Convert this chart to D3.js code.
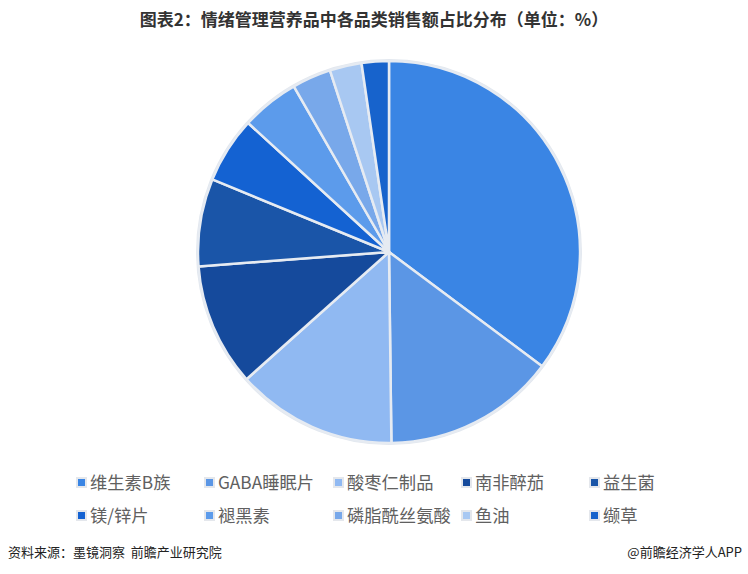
<!DOCTYPE html>
<html><head><meta charset="utf-8">
<script src="https://cdn.jsdelivr.net/npm/d3@7"></script>
<style>body{margin:0;background:#fff;}svg{display:block;font-family:"Noto Sans CJK SC","Noto Sans",sans-serif;}</style>
</head><body>
<script>
const categories = ["维生素B族","GABA睡眠片","酸枣仁制品","南非醉茄","益生菌","镁/锌片","褪黑素","磷脂酰丝氨酸","鱼油","缬草"];
const values = [35.2,14.6,13.6,10.4,7.4,5.6,4.9,3.3,2.7,2.3];
const colors = ["#3a85e4","#5b96e5","#90b9f2","#154a9c","#1a55a8","#1462d2","#5c9beb","#78a8ea","#a8c8f2","#1763cc"];
const title = "图表2：情绪管理营养品中各品类销售额占比分布（单位：%）";
const source = "资料来源：墨镜洞察\u00a0\u00a0前瞻产业研究院";
const credit = "@前瞻经济学人APP";

const W = 748, H = 574;
const svg = d3.select("body").append("svg").attr("width", W).attr("height", H);

svg.append("text").attr("x", 374).attr("y", 26).attr("text-anchor","middle")
  .attr("font-size", 17).attr("font-weight","bold").attr("fill","#333").text(title);

const cx = 389, cy = 252, r = 191;
const pie = d3.pie().sort(null).value(d => d);
const arc = d3.arc().innerRadius(0).outerRadius(r);
const g = svg.append("g").attr("transform", `translate(${cx},${cy})`);
g.append("circle").attr("r", r + 1).attr("fill", "none").attr("stroke", "#e3e8ef").attr("stroke-width", 2);
g.selectAll("path").data(pie(values)).enter().append("path")
  .attr("d", arc).attr("fill", (d,i) => colors[i])
  .attr("stroke", "#e6ebf2").attr("stroke-width", 2.5).attr("stroke-linejoin","round");

const colX = d3.scaleOrdinal().domain([0,1,2,3,4]).range([77, 205, 334, 462, 590]);
const rowY = d3.scaleOrdinal().domain([0,1]).range([483, 516]);
const lg = svg.append("g").selectAll("g").data(categories).enter().append("g")
  .attr("transform", (d,i) => `translate(${colX(i%5)},${rowY(Math.floor(i/5))})`);
lg.append("rect").attr("x", -1).attr("y", -6).attr("width", 11).attr("height", 11).attr("fill", "#e4e7ec");
lg.append("rect").attr("x", 1).attr("y", -4).attr("width", 7).attr("height", 7).attr("fill", (d,i) => colors[i]);
lg.append("text").attr("x", 13).attr("y", 0).attr("dy", "0.35em").attr("font-size", 17.3)
  .attr("fill", "#606060").text(d => d);

svg.append("text").attr("x", 8).attr("y", 557).attr("font-size", 13).attr("fill","#222").text(source);
svg.append("text").attr("x", 742).attr("y", 557).attr("text-anchor","end").attr("font-size", 13).attr("fill","#222").text(credit);
</script>
</body></html>
